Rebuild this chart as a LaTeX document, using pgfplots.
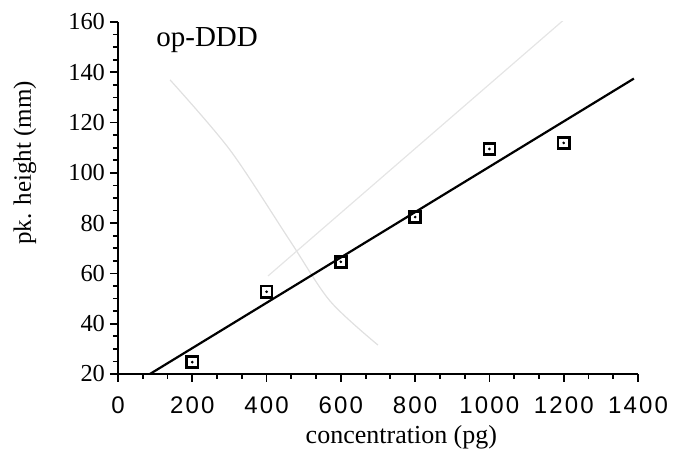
\documentclass[border=0pt]{standalone}
\usepackage{fontspec}
\setmainfont{Liberation Serif}
\newfontfamily\tickfont[LetterSpace=9]{Liberation Sans}
\usepackage{pgfplots}
\pgfplotsset{compat=1.18}

\begin{document}
\begin{tikzpicture}
\useasboundingbox (-59pt,-40pt) rectangle (279pt,187pt);
\begin{axis}[
  scale only axis,
  width=260pt, height=176pt,
  xmin=0, xmax=1400, ymin=20, ymax=160,
  axis x line=bottom, axis y line=left,
  axis line style={-, line width=1pt},
  xtick={0,200,...,1400}, ytick={20,40,...,160},
  minor x tick num=2, minor y tick num=3,
  tick align=outside,
  major tick length=4pt, minor tick length=2.5pt,
  every tick/.style={black, line width=0.9pt},
  /pgf/number format/assume math mode=true,
  /pgf/number format/1000 sep={},
  xticklabel style={font=\tickfont\fontsize{12}{14}\selectfont, yshift=-4pt},
  yticklabel style={font=\fontsize{12.2}{14}\selectfont, xshift=1pt},
  xlabel={concentration (pg)},
  ylabel={pk. height (mm)},
  xlabel style={font=\fontsize{13}{15}\selectfont, at={(axis description cs:0.545,0)}, anchor=center, yshift=-31.5pt},
  ylabel style={font=\fontsize{12.5}{15}\selectfont, at={(axis description cs:0,0.6)}, anchor=center, yshift=46.5pt},
  clip=true,
]
% faint show-through from the reverse of the page
\addplot[black!12, line width=0.6pt, smooth] coordinates {
  (140,137) (302,109) (463,73) (571,49) (700,31.5)};
\addplot[black!10, line width=0.6pt] coordinates {(404,59) (1217,163)};
% fitted line
\addplot[black, line width=1.1pt] coordinates {(86,20) (1389,137.5)};
% measured points
\addplot[only marks, mark=square, mark size=2.8pt, mark options={line width=1.3pt, black}] coordinates {
  (200,24.7) (400,52.7) (600,64.6) (800,82.4) (1000,109.5) (1200,111.9)};
\addplot[only marks, mark=*, mark size=0.45pt, black] coordinates {
  (200,24.7) (400,52.7) (600,64.6) (800,82.4) (1000,109.5) (1200,111.9)};
\node[font=\fontsize{14.5}{16}\selectfont, anchor=center] at (axis cs:240,152.8) {op-DDD};
\end{axis}
\end{tikzpicture}
\end{document}
